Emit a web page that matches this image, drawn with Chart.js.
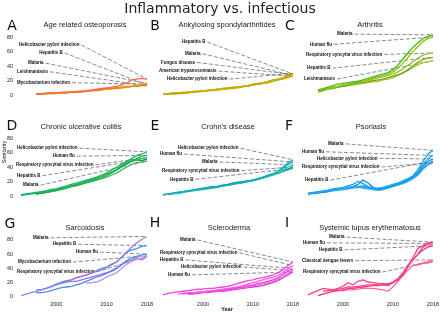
<!DOCTYPE html>
<html>
<head>
<meta charset="utf-8">
<script src="https://cdn.jsdelivr.net/npm/chart.js@4.4.0/dist/chart.umd.min.js"></script>
<style>
  body { margin: 0; background: #fff; }
  #wrap { position: relative; width: 440px; height: 313px; overflow: hidden; font-family: "Liberation Sans", Arial, sans-serif; }
  canvas { position: absolute; z-index: 1; }
  .t { position: absolute; z-index: 2; white-space: nowrap; transform: translate(-50%, -50%); line-height: 1; color: #222; }
  .big { font-family: "DejaVu Sans", sans-serif; font-size: 14px; color: #111; }
</style>
</head>
<body>
<div id="wrap"></div>
<script>
const years = [1992,1993,1994,1995,1996,1997,1998,1999,2000,2001,2002,2003,2004,2005,2006,2007,2008,2009,2010,2011,2012,2013,2014,2015,2016,2017,2018];
const xTickYears = [2000, 2010, 2018];
const yTicks = [0, 20, 40, 60, 80];

// A - Age related osteoporosis
const aNames = ['Helicobacter pylori infection', 'Hepatitis B', 'Malaria', 'Leishmaniasis', 'Mycobacterium infection'];
const aStart = 1996;
const aValues = [
  [2,2,3,3,3,4,4,4,5,5,6,7,8,9,10,11,12,14,17,21,22,23,22],
  [1,2,2,2,3,3,3,4,4,5,5,6,7,8,9,9,10,11,12,12,13,14,14],
  [2,2,2,3,3,3,4,4,5,5,6,6,7,8,8,9,10,10,11,12,13,15,16],
  [1,1,2,2,2,3,3,4,4,4,5,6,6,7,8,9,9,10,11,12,12,13,13],
  [2,2,2,3,3,3,3,4,4,5,5,6,7,7,8,9,10,11,11,12,13,14,15]
];
const aLabelX = [1992.6, 1996.6, 1994.4, 1992.2, 1992.2];
const aLabelY = [69, 58, 44, 32, 17];
const aColors = ['#f26a5e', '#f08a00', '#f5a010', '#e87800', '#fb9a1a'];

// B - Ankylosing spondylarthritides
const bNames = ['Hepatitis B', 'Malaria', 'Fungus disease', 'American trypanosomiasis', 'Helicobacter pylori infection'];
const bStart = 1992;
const bValues = [
  [1,2,2,3,3,4,4,5,5,6,7,7,8,9,10,11,12,13,14,15,16,17,19,21,23,26,29],
  [2,2,3,3,4,4,5,5,6,7,7,8,9,9,10,11,12,13,14,15,17,18,20,22,24,26,27],
  [1,1,2,2,3,3,4,5,6,6,7,8,8,9,10,11,12,12,14,15,16,18,20,22,23,25,28],
  [null,null,1,2,2,3,4,4,5,6,6,7,8,9,9,10,11,13,14,15,16,17,19,21,22,24,26],
  [2,2,3,3,3,4,5,5,6,6,7,8,9,10,11,11,12,13,15,16,17,19,21,22,24,27,30]
];
const bLabelX = [1995.8, 1996.4, 1991.6, 1991.2, 1992.8];
const bLabelY = [73, 57, 45, 33, 22];
const bColors = ['#c2aa00', '#d6c200', '#b09a00', '#cdb820', '#a89200'];

// C - Arthritis
const cNames = ['Malaria', 'Human flu', 'Respiratory syncytia virus infection', 'Hepatitis B', 'Leishmaniasis'];
const cStart = 1995;
const cValues = [
  [7,9,11,13,15,16,17,18,19,21,23,25,27,29,31,35,41,50,58,66,72,78,81,83],
  [6,8,9,11,12,14,15,17,18,19,21,23,25,27,29,32,37,44,52,60,67,74,78,80],
  [5,7,8,10,12,13,15,16,17,18,20,22,24,25,27,29,32,36,41,46,51,55,57,58],
  [4,6,8,9,11,12,13,15,16,17,18,20,21,22,24,26,28,31,35,40,45,49,51,52],
  [6,7,9,10,11,12,13,14,15,16,17,18,19,21,22,24,27,30,34,38,42,45,46,47]
];
const cLabelX = [1998.8, 1993.4, 1992.6, 1992.8, 1992.2];
const cLabelY = [84, 70, 56, 37, 22];
const cColors = ['#44b816', '#8cc800', '#9ab830', '#66aa22', '#b2c020'];

// D - Chronic ulcerative colitis
const dNames = ['Helicobacter pylori infection', 'Human flu', 'Respiratory syncytial virus infection', 'Hepatitis B', 'Malaria'];
const dStart = 1993;
const dValues = [
  [2,3,4,5,6,7,9,10,12,14,16,18,20,22,24,26,29,32,36,40,44,48,52,56,58,61],
  [null,null,null,3,4,5,7,8,10,12,14,15,17,19,21,23,25,28,32,36,40,44,48,52,55,56],
  [null,null,null,2,4,5,6,8,9,11,13,15,17,19,22,24,27,30,33,37,41,45,48,50,52,53],
  [1,2,3,4,5,7,8,9,11,12,14,16,18,21,23,25,27,30,33,37,42,46,49,50,49,51],
  [null,null,null,null,3,5,6,7,9,11,13,14,16,18,20,22,24,26,29,32,36,40,44,46,47,48]
];
const dLabelX = [1992.2, 1999.3, 1992.0, 1992.2, 1993.4];
const dLabelY = [66, 55, 43, 28, 15];
const dColors = ['#14b858', '#22a866', '#33c448', '#00a070', '#44b858'];

// E - Crohn's disease
const eNames = ['Helicobacter pylori infection', 'Human flu', 'Malaria', 'Respiratory syncytial virus infection', 'Hepatitis B'];
const eStart = 1992;
const eValues = [
  [1,3,4,5,6,7,8,9,10,11,12,13,14,15,16,17,18,20,21,23,25,27,30,34,40,46,50],
  [2,3,4,5,6,7,8,10,11,12,13,13,15,16,18,19,20,21,22,24,26,29,31,34,38,44,47],
  [null,null,3,4,5,7,8,9,10,11,12,14,15,16,17,18,19,20,22,23,25,27,29,32,35,40,43],
  [null,2,3,5,6,7,8,9,10,12,13,13,14,15,17,18,20,21,22,24,26,28,30,32,34,37,40],
  [null,null,null,3,5,6,7,8,9,10,11,12,14,15,16,18,19,21,22,23,25,27,29,31,34,36,38]
];
const eLabelX = [1995.0, 1991.4, 1999.8, 1991.8, 1993.4];
const eLabelY = [66, 58, 47, 35, 23];
const eColors = ['#17b4b4', '#10a6b0', '#22c0c0', '#0aa0a8', '#30b8b8'];

// F - Psoriasis
const fNames = ['Malaria', 'Human flu', 'Helicobacter pylori infection', 'Respiratory syncytial virus infection', 'Hepatitis B'];
const fStart = 1993;
const fValues = [
  [4,5,6,7,8,10,11,12,14,16,20,17,13,11,11,12,14,16,18,21,24,28,36,48,58,63],
  [3,4,5,6,7,8,9,10,11,12,13,12,11,10,10,11,13,15,17,20,23,27,34,44,52,56],
  [null,3,4,5,6,8,9,10,12,13,16,22,18,12,9,10,12,14,16,19,22,26,32,41,48,51],
  [null,null,null,5,6,7,8,9,10,11,12,11,10,9,8,9,11,13,15,17,20,24,29,37,43,46],
  [2,4,5,6,7,8,9,10,11,12,13,14,12,11,10,11,12,14,16,18,21,25,30,38,44,48]
];
const fLabelX = [1997.0, 1991.8, 1994.8, 1991.8, 1992.4];
const fLabelY = [72, 61, 52, 40, 22];
const fColors = ['#1a9ff0', '#2aa8f0', '#0890e8', '#30b0f5', '#1088e0'];

// G - Sarcoidosis
const gNames = ['Malaria', 'Hepatitis B', 'Human flu', 'Mycobacterium infection', 'Respiratory syncytial virus infection'];
const gStart = 1993;
const gValues = [
  [2,4,6,8,10,12,14,17,19,21,24,27,29,31,33,36,38,41,45,49,56,63,70,76,81,85],
  [null,null,null,10,10,12,15,18,21,23,24,27,29,31,34,37,40,42,46,49,56,63,66,68,71,72],
  [null,null,null,6,6,7,9,11,13,14,15,17,19,22,25,28,30,33,37,41,46,51,55,57,59,60],
  [null,null,null,null,null,null,null,null,null,null,null,null,null,19,20,21,24,28,31,34,40,46,50,53,55,58],
  [null,null,null,null,null,null,null,null,19,21,22,22,24,26,28,30,32,34,36,40,45,50,52,55,52,57]
];
const gLabelX = [1995.4, 1999.3, 2003.9, 1992.4, 1992.2];
const gLabelY = [83, 74, 63, 49, 35];
const gColors = ['#b070f0', '#3d9be9', '#4a8ee8', '#c58af0', '#a070e8'];

// H - Scleroderma
const hNames = ['Malaria', 'Respiratory syncytial virus infection', 'Hepatitis B', 'Helicobacter pylori infection', 'Human flu'];
const hStart = 1992;
const hValues = [
  [3,5,6,7,8,9,10,11,11,12,12,13,14,15,17,19,21,23,24,26,27,29,31,34,38,44,49],
  [null,null,null,4,5,6,6,7,7,8,9,10,11,12,13,14,16,18,20,22,24,26,28,30,34,40,44],
  [null,null,null,null,4,5,6,6,7,8,8,9,10,11,12,13,14,16,17,19,20,22,24,27,31,36,40],
  [null,null,null,null,null,4,5,6,6,7,8,8,9,10,11,12,13,14,16,17,18,20,22,25,28,33,37],
  [null,null,null,null,null,4,4,5,6,6,7,8,8,9,10,11,12,13,14,15,16,18,20,23,27,31,35]
];
const hLabelX = [1995.4, 1991.4, 1991.4, 1995.6, 1993.0];
const hLabelY = [80, 62, 52, 42, 31];
const hColors = ['#ee44dd', '#ff55ee', '#e040d8', '#f066e4', '#dd33cc'];

// I - Systemic lupus erythematosus
const iNames = ['Malaria', 'Human flu', 'Hepatitis B', 'Classical dengue fevers', 'Respiratory syncytial virus infection'];
const iStart = 1993;
const iValues = [
  [3,6,9,12,11,10,12,15,20,17,22,24,21,20,19,18,18,20,24,30,42,55,68,72,76,77],
  [null,null,null,8,9,10,11,12,14,14,15,16,17,17,18,19,18,21,26,34,45,52,60,70,74,75],
  [null,null,2,4,6,8,9,10,12,12,13,14,15,16,16,17,16,20,25,33,44,52,60,66,70,72],
  [null,null,null,null,null,8,9,9,10,10,11,12,12,12,11,10,8,14,22,30,38,44,46,48,50,52],
  [null,null,null,null,null,null,null,null,null,null,null,null,null,null,null,null,null,null,null,null,null,44,45,47,48,50]
];
const iLabelX = [1997.2, 1992.0, 1995.2, 1991.8, 1992.0];
const iLabelY = [84, 76, 66, 51, 35];
const iColors = ['#ff3d7f', '#ff4499', '#ee3377', '#ff66aa', '#ff5588'];

const panels = [
  { letter: 'A', title: 'Age related osteoporosis', names: aNames, start: aStart, values: aValues, lx: aLabelX, ly: aLabelY, colors: aColors },
  { letter: 'B', title: 'Ankylosing spondylarthritides', names: bNames, start: bStart, values: bValues, lx: bLabelX, ly: bLabelY, colors: bColors },
  { letter: 'C', title: 'Arthritis', names: cNames, start: cStart, values: cValues, lx: cLabelX, ly: cLabelY, colors: cColors },
  { letter: 'D', title: 'Chronic ulcerative colitis', names: dNames, start: dStart, values: dValues, lx: dLabelX, ly: dLabelY, colors: dColors },
  { letter: 'E', title: "Crohn's disease", names: eNames, start: eStart, values: eValues, lx: eLabelX, ly: eLabelY, colors: eColors },
  { letter: 'F', title: 'Psoriasis', names: fNames, start: fStart, values: fValues, lx: fLabelX, ly: fLabelY, colors: fColors },
  { letter: 'G', title: 'Sarcoidosis', names: gNames, start: gStart, values: gValues, lx: gLabelX, ly: gLabelY, colors: gColors },
  { letter: 'H', title: 'Scleroderma', names: hNames, start: hStart, values: hValues, lx: hLabelX, ly: hLabelY, colors: hColors },
  { letter: 'I', title: 'Systemic lupus erythematosus', names: iNames, start: iStart, values: iValues, lx: iLabelX, ly: iLabelY, colors: iColors }
];

// layout of the plot areas (pixels)
const colX = [[16, 147], [163, 293], [303, 433]];
const rowY = [[33.4, 97.2], [134.4, 198.2], [236.4, 299.1]];
const letterPos = [[12, 25], [155, 25], [290, 25], [12, 125], [155, 125], [289, 125], [10, 223], [155, 222], [287, 222]];
const titlePos = [[85, 25], [227, 25], [370, 25], [81, 127], [228, 127], [371, 127], [85, 228], [229, 228], [370, 228]];

const wrap = document.getElementById('wrap');

function addText(txt, x, y, css, cls) {
  const d = document.createElement('div');
  d.className = 't ' + (cls || '');
  d.textContent = txt;
  d.style.left = x + 'px';
  d.style.top = y + 'px';
  Object.assign(d.style, css || {});
  wrap.appendChild(d);
  return d;
}

addText('Inflammatory vs. infectious', 220, 7.5, { fontFamily: '"DejaVu Sans", sans-serif', fontSize: '14px', color: '#222' });
addText('Year', 227, 309.5, { fontSize: '5.5px', fontWeight: 'bold', color: '#111' });
addText('Similarity', 5, 152, { fontSize: '5.5px', color: '#111', transform: 'translate(-50%, -50%) rotate(-90deg)' });

panels.forEach((p, k) => {
  const col = k % 3, row = Math.floor(k / 3);
  addText(p.letter, letterPos[k][0], letterPos[k][1], null, 'big');
  addText(p.title, titlePos[k][0], titlePos[k][1], { fontSize: '7.5px', color: '#1a1a1a' });

  const [l, r] = colX[col];
  const [t, b] = rowY[row];
  const yW = 16, xH = 10;
  const cLeft = l - yW;
  const cTop = Math.floor(t) - 6;
  const cW = Math.round(r - cLeft + 8);
  const cH = Math.ceil(b) + 12 - cTop;

  const canvas = document.createElement('canvas');
  canvas.width = cW; canvas.height = cH;
  canvas.style.left = cLeft + 'px'; canvas.style.top = cTop + 'px';
  canvas.style.width = cW + 'px'; canvas.style.height = cH + 'px';
  wrap.appendChild(canvas);

  const series = p.values.map(v => new Array(p.start - years[0]).fill(null).concat(v));

  const leaders = {
    id: 'leaders' + k,
    beforeDatasetsDraw(chart) {
      const { ctx, scales: { x, y } } = chart;
      ctx.save();
      ctx.font = 'bold 4.5px "Liberation Sans", Arial, sans-serif';
      ctx.textBaseline = 'middle';
      p.names.forEach((name, i) => {
        const tx = x.getPixelForValue(p.lx[i] - years[0]);
        const ty = y.getPixelForValue(p.ly[i]);
        ctx.fillStyle = '#111';
        ctx.fillText(name, tx, ty);
        const w = ctx.measureText(name).width;
        const s = series[i];
        const ex = x.getPixelForValue(years.length - 1);
        const ey = y.getPixelForValue(s[s.length - 1]);
        ctx.strokeStyle = '#4a4a4a';
        ctx.lineWidth = 0.65;
        ctx.setLineDash([4, 2]);
        ctx.beginPath();
        ctx.moveTo(tx + w + 2, ty);
        ctx.lineTo(ex, ey);
        ctx.stroke();
      });
      ctx.restore();
    }
  };

  new Chart(canvas.getContext('2d'), {
    type: 'line',
    data: {
      labels: years,
      datasets: series.map((s, i) => ({
        label: p.names[i],
        data: s,
        borderColor: p.colors[i],
        borderWidth: 1.3,
        pointRadius: 0,
        tension: 0,
        fill: false
      }))
    },
    options: {
      responsive: false,
      animation: false,
      layout: { padding: { left: 0, top: t - cTop, right: cW - (r - cLeft), bottom: cH - (b - cTop) - xH } },
      plugins: { legend: { display: false }, tooltip: { enabled: false } },
      scales: {
        x: {
          type: 'category',
          offset: false,
          grid: { display: false, drawTicks: false, tickLength: 0 },
          border: { display: false },
          ticks: {
            display: row === 2,
            autoSkip: false,
            maxRotation: 0,
            padding: 2,
            color: '#222',
            font: { size: 5.5 },
            callback: (v) => xTickYears.includes(years[v]) ? String(years[v]) : ''
          },
          afterFit: (s) => { s.height = xH; }
        },
        y: {
          min: -3,
          max: 85,
          grid: { display: false, drawTicks: false, tickLength: 0 },
          border: { display: false },
          ticks: { display: col === 0, padding: 3, color: '#222', font: { size: 5.5 } },
          afterBuildTicks: (s) => { s.ticks = yTicks.map(v => ({ value: v })); },
          afterFit: (s) => { s.width = yW; }
        }
      }
    },
    plugins: [leaders]
  });
});
</script>
</body>
</html>
